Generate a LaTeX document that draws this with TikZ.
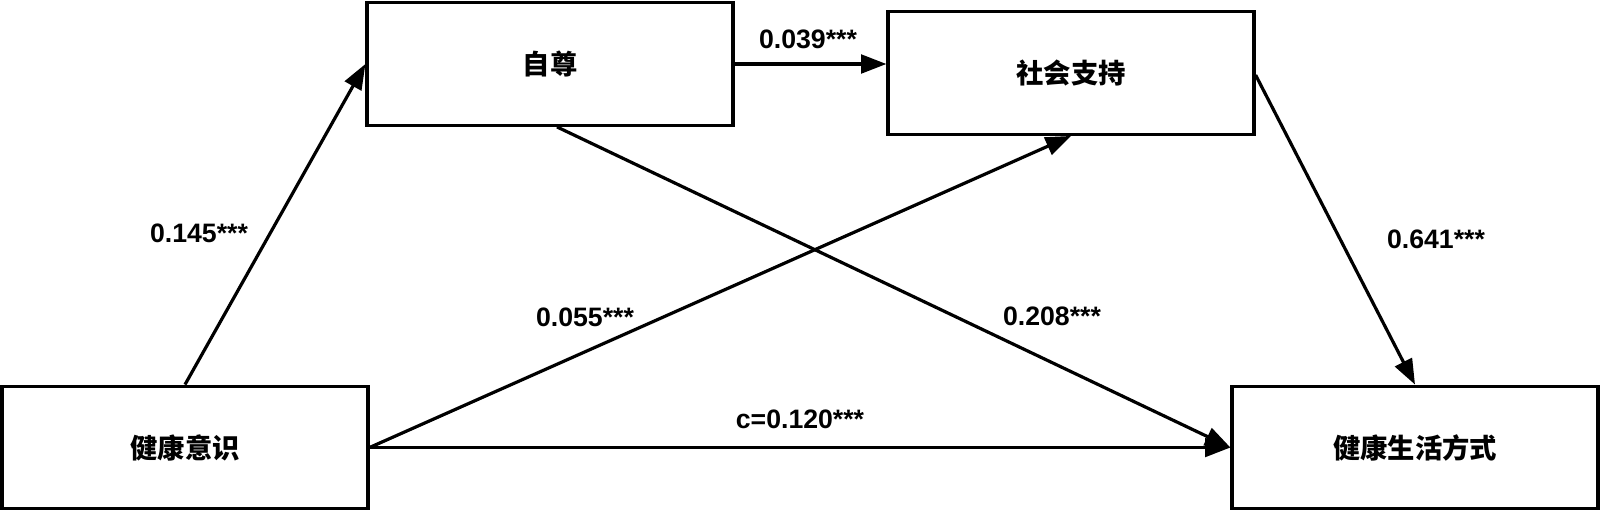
\documentclass[tikz,border=0pt]{standalone}
\usepackage{fontspec}
\setmainfont{Liberation Sans}
\newfontfamily\cjk{Noto Sans CJK SC}
\usetikzlibrary{arrows.meta,calc}
\begin{document}
\begin{tikzpicture}[x=0.75pt,y=-0.75pt,
  varbox/.style={draw=black,line width=2.4pt,fill=white,inner sep=0pt,
    minimum width=274.5pt,minimum height=92pt,font=\cjk\bfseries\fontsize{20.5pt}{24pt}\selectfont},
  conn/.style={line width=2.4pt,-{Triangle[length=19pt,width=14pt]}},
  lab/.style={font=\bfseries\fontsize{20pt}{23pt}\selectfont,inner sep=0pt}]
\useasboundingbox (0,0) rectangle (1600,511);
\fill[white] (0,0) rectangle (1600,511);
\node[varbox] (b1) at (185,447.5) {健康意识};
\node[varbox] (b2) at (550,64) {自尊};
\node[varbox] (b3) at (1071,73) {社会支持};
\node[varbox] (b4) at (1415,447.5) {健康生活方式};
\draw[conn] (b1.north) -- (b2.west);
\draw[conn] (b2.east) -- (b2.east -| b3.west);
\draw[conn] (b1.east) -- (b3.south);
\draw[conn] ($(b2.south)+(7,0)$) -- (b4.west);
\draw[conn] ($(b3.east)+(0,2)$) -- (b4.north);
\draw[conn] (b1.east) -- (b4.west);
\node[lab] (l1) at (199,233) {0.145***};
\node[lab] (l2) at (808,39) {0.039***};
\node[lab] (l3) at (1436,239) {0.641***};
\node[lab] (l4) at (585,317) {0.055***};
\node[lab] (l5) at (1052,316) {0.208***};
\node[lab] (l6) at (800,419) {c=0.120***};
\end{tikzpicture}
\end{document}
